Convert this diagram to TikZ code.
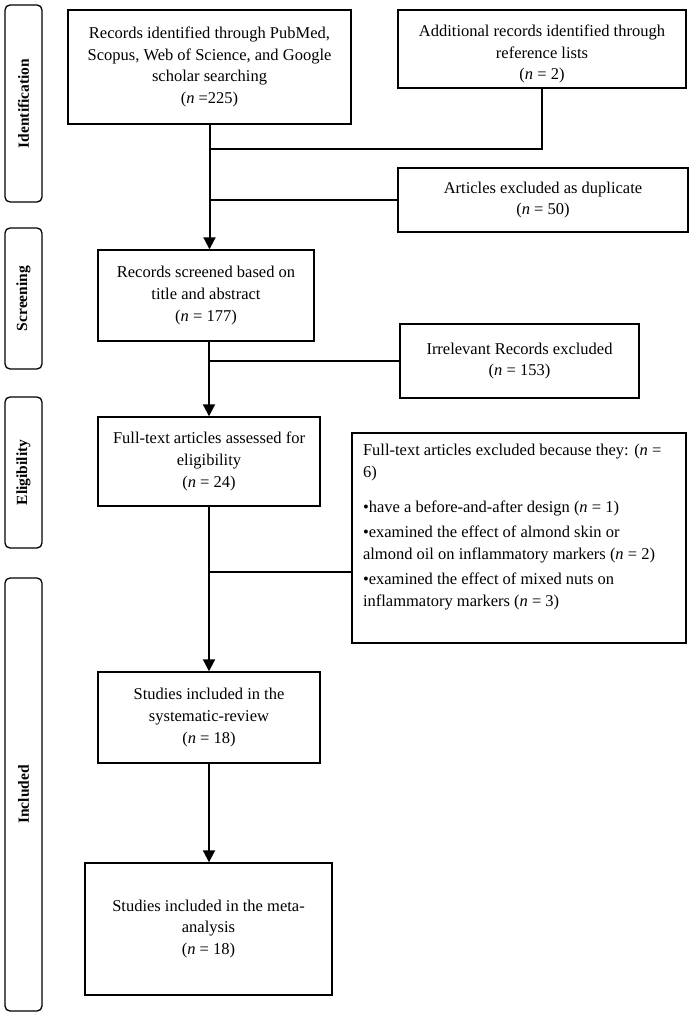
\documentclass[tikz,border=0pt]{standalone}
\usepackage{fontspec}
\setmainfont{Liberation Serif}
\usetikzlibrary{arrows.meta,positioning,calc}

\begin{document}
\begin{tikzpicture}[x=1pt, y=-1pt,
  box/.style={draw, rectangle, line width=1.4pt, align=center, inner sep=0pt,
    font=\fontsize{16.5}{21.7}\selectfont},
  phase/.style={draw, rectangle, rounded corners=5pt, line width=1.3pt, rotate=90,
    inner sep=0pt, minimum height=37pt, font=\fontsize{15.5}{18}\selectfont\bfseries},
  flow/.style={line width=2pt, -{Triangle[length=12pt,width=12pt]}},
  branch/.style={line width=1.3pt}]

% Page
\fill[white] (0,0) rectangle (693,1016);

% Phase labels
\node[phase, minimum width=197pt] (identph) at (23.5,103.5) {Identification};
\node[phase, minimum width=141pt] (screenph) at (23.5,298.5) {Screening};
\node[phase, minimum width=151pt] (eligph) at (23.5,472.5) {Eligibility};
\node[phase, minimum width=433pt] (inclph) at (23.5,794.5) {Included};

% Identification
\node[box, minimum width=283pt, minimum height=114pt] (recs) at (209.5,67) {Records identified through PubMed,\\Scopus, Web of Science, and Google\\scholar searching\\(\textit{n} =225)};
\node[box, minimum width=288pt, minimum height=78pt] (addl) at (542,49) {\rule{0pt}{22pt}Additional records identified through\\reference lists\\(\textit{n} = 2)};
\node[box, minimum width=290pt, minimum height=64pt] (dupl) at (543,200) {Articles excluded as duplicate\\(\textit{n} = 50)};

% Screening
\node[box, minimum width=216pt, minimum height=91pt] (screen) at (206,295.5) {Records screened based on\\title and abstract\\(\textit{n} = 177)};
\node[box, minimum width=239pt, minimum height=74pt] (irrel) at (519.5,361) {Irrelevant Records excluded\\(\textit{n} = 153)};

% Eligibility
\node[box, minimum width=222pt, minimum height=89pt] (full) at (209,461.5) {Full-text articles assessed for\\eligibility\\(\textit{n} = 24)};
\node[box, inner xsep=11pt, inner ysep=11pt] (excl) at (519,538) {\parbox[c][188pt][t]{312pt}{\raggedright
Full-text articles excluded because they: (\textit{n} =\\
6)\par\vspace{14pt}
\textbullet have a before-and-after design (\textit{n} = 1)\par\vspace{3pt}
\textbullet examined the effect of almond skin or\\
almond oil on inflammatory markers (\textit{n} = 2)\par\vspace{4pt}
\textbullet examined the effect of mixed nuts on\\
inflammatory markers (\textit{n} = 3)}};

% Included
\node[box, minimum width=222pt, minimum height=91pt] (sysrev) at (209,717.5) {Studies included in the\\systematic-review\\(\textit{n} = 18)};
\node[box, minimum width=247pt, minimum height=132pt] (meta) at (208.5,929) {Studies included in the meta-\\analysis\\(\textit{n} = 18)};

% Junctions
\coordinate (j1) at (209.5,149);
\coordinate (j3) at (209,572);

% Connectors
\draw[flow] (recs.south) -- (recs.south |- screen.north);
\draw[branch] (addl.south) |- (j1);
\draw[branch] (dupl.west) -- (dupl.west -| recs.south);
\draw[flow] (screen.south -| full.north) -- (full.north);
\draw[branch] (irrel.west) -- (irrel.west -| full.north);
\draw[flow] (full.south) -- (sysrev.north);
\draw[branch] (j3) -- (j3 -| excl.west);
\draw[flow] (sysrev.south) -- (sysrev.south |- meta.north);

\end{tikzpicture}
\end{document}
